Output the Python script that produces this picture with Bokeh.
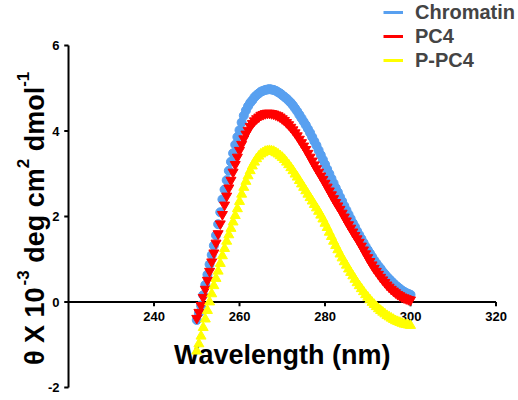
from math import pi
import numpy as np
from bokeh.plotting import figure
from bokeh.models import Range1d, Legend, LegendItem, ColumnDataSource
from bokeh.core.properties import value
from bokeh.embed import file_html
from bokeh.resources import INLINE

# ---- data (0.5 nm steps) ----
wavelength = np.arange(250.0, 300.01, 0.5)
chromatin = [-0.42, -0.26, -0.08, 0.16, 0.40, 0.64, 0.88, 1.10, 1.32, 1.56,
             1.82, 2.10, 2.40, 2.63, 2.85, 3.07, 3.28, 3.48, 3.68, 3.86,
             4.02, 4.20, 4.36, 4.48, 4.58, 4.66, 4.72, 4.79, 4.84, 4.88,
             4.92, 4.94, 4.96, 4.97, 4.98, 4.97, 4.96, 4.94, 4.91, 4.88,
             4.84, 4.80, 4.76, 4.71, 4.66, 4.60, 4.53, 4.46, 4.38, 4.30,
             4.22, 4.14, 4.05, 3.96, 3.86, 3.76, 3.66, 3.55, 3.44, 3.33,
             3.22, 3.11, 3.00, 2.89, 2.78, 2.67, 2.57, 2.46, 2.36, 2.25,
             2.15, 2.05, 1.95, 1.85, 1.76, 1.66, 1.57, 1.48, 1.39, 1.30,
             1.22, 1.14, 1.06, 0.98, 0.91, 0.84, 0.78, 0.71, 0.65, 0.59,
             0.54, 0.49, 0.44, 0.39, 0.35, 0.31, 0.27, 0.24, 0.21, 0.19, 0.17]
pc4 = [-0.38, -0.24, -0.08, 0.11, 0.30, 0.51, 0.72, 0.94, 1.15, 1.38,
       1.60, 1.83, 2.05, 2.27, 2.48, 2.67, 2.85, 3.04, 3.22, 3.39,
       3.55, 3.69, 3.82, 3.93, 4.02, 4.11, 4.18, 4.24, 4.29, 4.33,
       4.37, 4.39, 4.41, 4.42, 4.42, 4.41, 4.40, 4.38, 4.36, 4.33,
       4.29, 4.25, 4.20, 4.15, 4.09, 4.03, 3.96, 3.89, 3.81, 3.73,
       3.65, 3.57, 3.48, 3.39, 3.30, 3.21, 3.12, 3.04, 2.95, 2.87,
       2.78, 2.69, 2.60, 2.51, 2.42, 2.33, 2.25, 2.17, 2.08, 1.99,
       1.90, 1.81, 1.73, 1.64, 1.56, 1.48, 1.40, 1.31, 1.22, 1.13,
       1.04, 0.95, 0.87, 0.79, 0.72, 0.65, 0.58, 0.52, 0.46, 0.40,
       0.35, 0.30, 0.26, 0.22, 0.18, 0.15, 0.12, 0.10, 0.08, 0.06, 0.05]
p_pc4 = [-1.15, -0.98, -0.80, -0.60, -0.40, -0.20, 0.00, 0.19, 0.38, 0.55,
         0.72, 0.90, 1.08, 1.25, 1.42, 1.57, 1.72, 1.87, 2.02, 2.18,
         2.35, 2.52, 2.68, 2.82, 2.95, 3.07, 3.18, 3.27, 3.35, 3.41,
         3.46, 3.49, 3.52, 3.53, 3.54, 3.53, 3.52, 3.49, 3.46, 3.42,
         3.38, 3.33, 3.27, 3.21, 3.14, 3.07, 2.99, 2.92, 2.84, 2.76,
         2.68, 2.60, 2.52, 2.44, 2.36, 2.28, 2.20, 2.12, 2.03, 1.94,
         1.84, 1.74, 1.63, 1.53, 1.42, 1.32, 1.22, 1.12, 1.03, 0.94,
         0.86, 0.77, 0.69, 0.61, 0.53, 0.45, 0.38, 0.31, 0.24, 0.17,
         0.11, 0.05, -0.01, -0.06, -0.11, -0.16, -0.20, -0.24, -0.28, -0.32,
         -0.35, -0.38, -0.41, -0.44, -0.46, -0.48, -0.50, -0.52, -0.53, -0.54, -0.55]
series_names = ["Chromatin", "PC4", "P-PC4"]
x_ticks = [240, 260, 280, 300, 320]
y_ticks = [-2, 0, 2, 4, 6]
x_bounds = [220, 320]
y_bounds = [-2, 6]
x_title = "Wavelength (nm)"
# y title pieces: (text, kind) kind: "b" base, "s" superscript, "gap" a word space
y_title_parts = [("θ X 10", "b"), ("-3", "s"), (" ", "gap"), ("deg cm", "b"), ("2", "s"),
                 (" ", "gap"), ("dmol", "b"), ("-1", "s")]

FONT = "Liberation Sans"
colors = ["#58a0f0", "#ff0000", "#ffff00"]

# Arial/Liberation Sans Bold advance widths (per 1000 em) for the title pieces
ADV = {"θ": 611, " ": 278, "X": 667, "1": 556, "0": 556, "-": 333, "3": 556, "2": 556,
       "d": 611, "e": 556, "g": 611, "c": 556, "m": 889, "o": 611, "l": 278}
BASE_PX, SUP_PX = 27, 17
PX_PER_X = 4.275    # screen px per nm
PX_PER_Y = 42.75    # screen px per unit

p = figure(width=518, height=400, output_backend="svg", toolbar_location=None,
           x_axis_location=None, y_axis_location=None,
           x_range=Range1d(204.09, 325.26), y_range=Range1d(-2.304, 7.053),
           min_border=0)
p.outline_line_color = None
p.xgrid.visible = False
p.ygrid.visible = False
p.background_fill_color = "white"
p.border_fill_color = "white"

# ---- x axis at y = 0 ----
p.segment(x0=[x_bounds[0]], y0=[0], x1=[x_bounds[1]], y1=[0], line_color="black", line_width=2)
xts = ColumnDataSource(dict(x=x_ticks, y0=[0] * len(x_ticks), y1=[-0.1] * len(x_ticks),
                            t=[str(t) for t in x_ticks]))
p.segment(x0="x", y0="y0", x1="x", y1="y1", source=xts, line_color="black", line_width=2)
p.text(x="x", y="y0", text="t", source=xts, text_font=value(FONT), text_font_style="bold",
       text_font_size="13px", text_align="center", text_baseline="top", y_offset=10,
       text_color="black")
p.text(x=[(x_bounds[0] + x_bounds[1]) / 2], y=[0], text=[x_title], text_font=value(FONT),
       text_font_style="bold", text_font_size="27px", text_align="center",
       text_baseline="alphabetic", y_offset=53, text_color="black")

# ---- y axis at x = 220 ----
p.segment(x0=[x_bounds[0]], y0=[y_bounds[0]], x1=[x_bounds[0]], y1=[y_bounds[1]],
          line_color="black", line_width=2)
yts = ColumnDataSource(dict(x0=[x_bounds[0]] * len(y_ticks), x1=[x_bounds[0] - 1.0] * len(y_ticks),
                            y=y_ticks, t=[str(t) for t in y_ticks]))
p.segment(x0="x0", y0="y", x1="x1", y1="y", source=yts, line_color="black", line_width=2)
p.text(x="x0", y="y", text="t", source=yts, text_font=value(FONT), text_font_style="bold",
       text_font_size="13px", text_align="right", text_baseline="middle", x_offset=-9,
       text_color="black")

# rotated y title built from pieces so the superscripts are raised and smaller
start_px = 63.0                     # start of the title, px below the x axis
base_x = x_bounds[0] - 34 / PX_PER_X
sup_x = x_bounds[0] - 46 / PX_PER_X
cum = 0.0
for txt, kind in y_title_parts:
    size = SUP_PX if kind == "s" else BASE_PX
    if kind != "gap":
        p.text(x=[sup_x if kind == "s" else base_x], y=[(cum - start_px) / PX_PER_Y],
               text=[txt], angle=pi / 2, text_font=value(FONT), text_font_style="bold",
               text_font_size=f"{size}px", text_align="left", text_baseline="middle",
               text_color="black")
    cum += sum(ADV.get(ch, 556) for ch in txt) * size / 1000.0

# ---- data ----
src = ColumnDataSource(dict(x=wavelength, a=chromatin, b=pc4, c=p_pc4))
la = p.line("x", "a", source=src, line_color=colors[0], line_width=3, visible=False)
lb = p.line("x", "b", source=src, line_color=colors[1], line_width=3, visible=False)
lc = p.line("x", "c", source=src, line_color=colors[2], line_width=3, visible=False)
p.scatter("x", "a", source=src, marker="circle", size=9, fill_color=colors[0], line_color=colors[0])
p.scatter("x", "b", source=src, marker="inverted_triangle", size=10, fill_color=colors[1], line_color=colors[1])
p.scatter("x", "c", source=src, marker="triangle", size=10, fill_color=colors[2], line_color=colors[2])

legend = Legend(items=[LegendItem(label=series_names[0], renderers=[la]),
                       LegendItem(label=series_names[1], renderers=[lb]),
                       LegendItem(label=series_names[2], renderers=[lc])],
                location="top_right", margin=0, padding=0, spacing=0,
                glyph_width=20, glyph_height=24, label_height=24, label_width=103,
                label_standoff=12,
                label_text_font=FONT, label_text_font_style="bold", label_text_font_size="20px",
                border_line_color=None, background_fill_alpha=0)
p.add_layout(legend)

open("out.html", "w").write(file_html(p, INLINE))
